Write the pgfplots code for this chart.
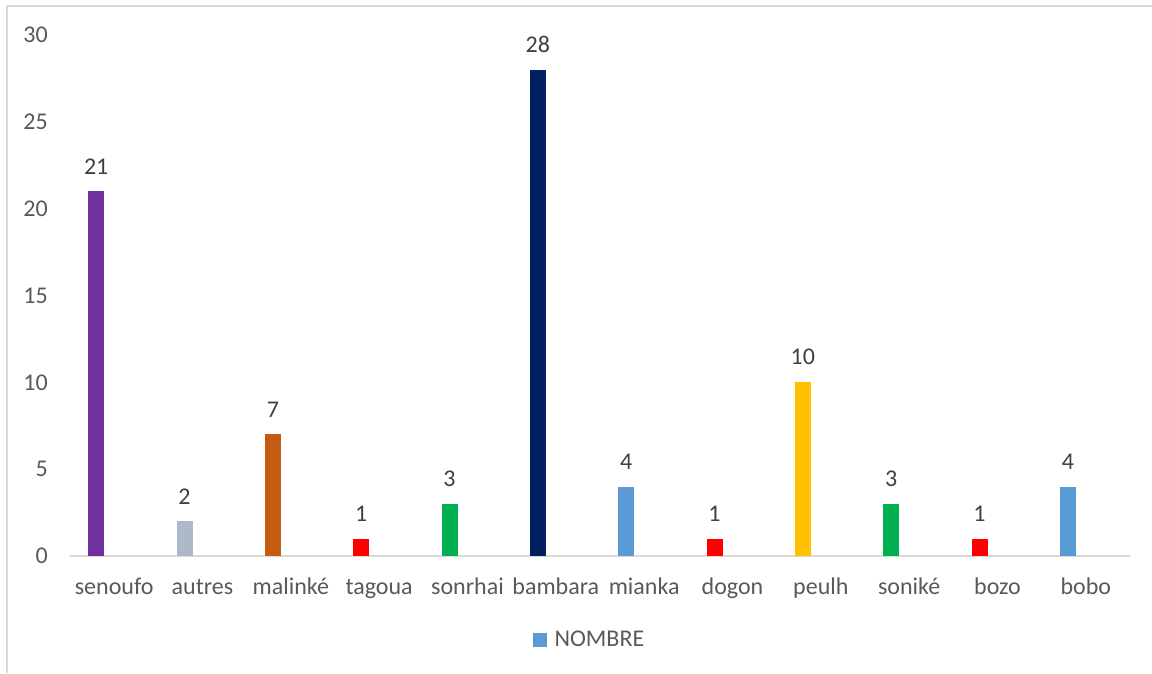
\documentclass[border=0pt]{standalone}
\usepackage{pgfplots}
\pgfplotsset{compat=1.18}
\usepackage{fontspec}
\setmainfont{Carlito}
\definecolor{cPurple}{HTML}{7030A0}
\definecolor{cGray}{HTML}{ADB9CA}
\definecolor{cOrange}{HTML}{C55A11}
\definecolor{cRed}{HTML}{FF0000}
\definecolor{cGreen}{HTML}{00B050}
\definecolor{cNavy}{HTML}{002060}
\definecolor{cBlue}{HTML}{5B9BD5}
\definecolor{cGold}{HTML}{FFC000}
\definecolor{tick}{HTML}{595959}
\definecolor{lab}{HTML}{404040}
\definecolor{frame}{HTML}{D9D9D9}
\begin{document}
\begin{tikzpicture}[x=1pt,y=1pt]
\useasboundingbox (0,0) rectangle (1152,673);
\draw[frame, line width=2pt] (7,0) -- (7,667) -- (1152,667);
\begin{axis}[
  at={(70pt,117pt)}, anchor=south west,
  scale only axis, width=1060pt, height=521pt,
  xmin=-0.5, xmax=11.5, ymin=0, ymax=30,
  ybar, bar width=16pt, bar shift=-18pt,
  axis x line*=bottom, axis y line=none,
  x axis line style={frame, line width=2pt, -},
  axis line style={frame},
  xtick={0,...,11},
  xticklabels={senoufo,autres,malinké,tagoua,sonrhai,bambara,mianka,dogon,peulh,soniké,bozo,bobo},
  major tick length=0pt,
  xticklabel style={anchor=base, inner sep=0pt, yshift=-38pt, font=\fontsize{24}{28}\selectfont, text=tick},
  /pgf/number format/assume math mode=true,
  clip=false,
  nodes near coords,
  every node near coord/.append style={font=\fontsize{24}{28}\selectfont, text=lab, anchor=south, inner sep=0pt, yshift=17pt},
  legend style={draw=none, at={(0.49,-0.161)}, anchor=center, font=\fontsize{24}{28}\selectfont, text=tick, inner sep=0pt},
  legend image code/.code={\fill[#1] (0pt,-7pt) rectangle (14pt,7pt); \path (20pt,0pt);},
]
\addlegendimage{fill=cBlue, draw=none}
\addlegendentry{NOMBRE}
\addplot[fill=cPurple, draw=none] coordinates {(0,21)};
\addplot[fill=cGray, draw=none] coordinates {(1,2)};
\addplot[fill=cOrange, draw=none] coordinates {(2,7)};
\addplot[fill=cRed, draw=none] coordinates {(3,1)};
\addplot[fill=cGreen, draw=none] coordinates {(4,3)};
\addplot[fill=cNavy, draw=none] coordinates {(5,28)};
\addplot[fill=cBlue, draw=none] coordinates {(6,4)};
\addplot[fill=cRed, draw=none] coordinates {(7,1)};
\addplot[fill=cGold, draw=none] coordinates {(8,10)};
\addplot[fill=cGreen, draw=none] coordinates {(9,3)};
\addplot[fill=cRed, draw=none] coordinates {(10,1)};
\addplot[fill=cBlue, draw=none] coordinates {(11,4)};
\end{axis}
\begin{axis}[
  at={(70pt,117pt)}, anchor=south west,
  scale only axis, width=1060pt, height=521pt,
  xmin=-0.5, xmax=11.5, ymin=0, ymax=30,
  axis x line=none, axis y line*=left, y axis line style={draw=none},
  ytick={0,5,...,30}, major tick length=0pt,
  yticklabel style={anchor=east, inner sep=0pt, xshift=-22pt, font=\fontsize{24}{28}\selectfont, text=tick},
  /pgf/number format/assume math mode=true,
]
\addplot[draw=none] coordinates {(0,0)};
\end{axis}
\end{tikzpicture}
\end{document}
